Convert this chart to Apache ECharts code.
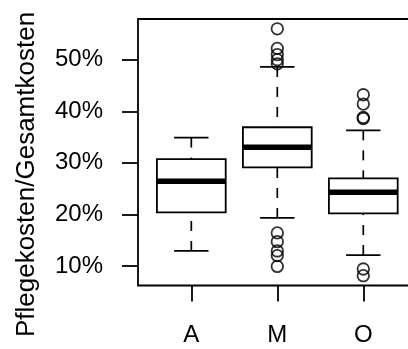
<!DOCTYPE html>
<html>
<head>
<meta charset="utf-8">
<script src="https://cdn.jsdelivr.net/npm/echarts@6/dist/echarts.min.js"></script>
<style>
  html, body { margin: 0; padding: 0; background: #fff; }
  #chart { width: 408px; height: 349px; }
</style>
</head>
<body>
<div id="chart"></div>
<script>
// Share of care costs in total costs, by group
const categories = ['A', 'M', 'O'];
const whiskerLow  = [12.9, 19.3, 12.1];
const quartile1   = [20.4, 29.1, 20.2];
const medians     = [26.4, 33.0, 24.3];
const quartile3   = [30.7, 36.9, 27.0];
const whiskerHigh = [34.9, 48.6, 36.3];
const outliersA = [];
const outliersM = [56.0, 52.2, 51.0, 50.0, 49.2, 16.4, 14.7, 12.9, 12.0, 9.9];
const outliersO = [43.2, 41.4, 38.8, 38.6, 9.4, 8.1];
const yTicks = [10, 20, 30, 40, 50];

const FONT = 'Liberation Sans, Arial, Helvetica, sans-serif';
const boxHalf = 0.4;    // half box width in category units
const stapleHalf = 0.2; // half whisker-cap width

const boxData = categories.map((c, i) => [
  i + 1, whiskerLow[i], quartile1[i], medians[i], quartile3[i], whiskerHigh[i]
]);

const outlierData = [];
[outliersA, outliersM, outliersO].forEach((arr, i) => {
  arr.forEach(v => outlierData.push([i + 1, v]));
});

function renderBox(params, api) {
  const x = api.value(0);
  const lo = api.value(1), qa = api.value(2), md = api.value(3),
        qb = api.value(4), hi = api.value(5);
  const tl = api.coord([x - boxHalf, qb]);
  const br = api.coord([x + boxHalf, qa]);
  const mL = api.coord([x - boxHalf, md]);
  const mR = api.coord([x + boxHalf, md]);
  const c = api.coord([x, md]);
  const sL = api.coord([x - stapleHalf, md])[0];
  const sR = api.coord([x + stapleHalf, md])[0];
  const yLo = api.coord([x, lo])[1];
  const yHi = api.coord([x, hi])[1];
  const line = (x1, y1, x2, y2, w, dash) => ({
    type: 'line',
    shape: { x1, y1, x2, y2 },
    style: { stroke: '#000', lineWidth: w, lineDash: dash || null, fill: null }
  });
  return {
    type: 'group',
    children: [
      // whiskers, dashed, drawn from the cap towards the box
      line(c[0], yLo, c[0], br[1], 1.7, [10, 10]),
      line(c[0], yHi, c[0], tl[1], 1.7, [10, 10]),
      // caps
      line(sL, yLo, sR, yLo, 1.8),
      line(sL, yHi, sR, yHi, 1.8),
      {
        type: 'rect',
        shape: { x: tl[0], y: tl[1], width: br[0] - tl[0], height: br[1] - tl[1] },
        style: { fill: '#fff', stroke: '#000', lineWidth: 1.8 }
      },
      line(mL[0], mL[1], mR[0], mR[1], 5.5)
    ]
  };
}

const chart = echarts.init(document.getElementById('chart'), null, { renderer: 'canvas' });
chart.setOption({
  animation: false,
  backgroundColor: '#fff',
  grid: {
    left: 138, top: 19, width: 278.6, height: 266.5,
    outerBoundsMode: 'none',
    containLabel: false,
    show: true, borderColor: '#000', borderWidth: 1.8, backgroundColor: 'transparent'
  },
  xAxis: {
    type: 'value',
    min: 0.38, max: 3.62,
    splitLine: { show: false },
    axisLine: { show: false },
    axisTick: {
      show: true, customValues: [1, 2, 3], length: 16, inside: false,
      lineStyle: { color: '#000', width: 1.8 }
    },
    axisLabel: {
      customValues: [1, 2, 3],
      formatter: v => categories[Math.round(v) - 1],
      color: '#000', fontSize: 24, fontFamily: FONT, margin: 38
    }
  },
  yAxis: {
    type: 'value',
    min: 6.2, max: 57.9,
    splitLine: { show: false },
    axisLine: { show: false },
    axisTick: {
      show: true, customValues: yTicks, length: 16, inside: false,
      lineStyle: { color: '#000', width: 1.8 }
    },
    axisLabel: {
      customValues: yTicks,
      formatter: v => v + '%',
      color: '#000', fontSize: 24, fontFamily: FONT, margin: 35
    }
  },
  graphic: [{
    type: 'text',
    x: 27, y: 174.5,
    rotation: Math.PI / 2,
    style: {
      text: 'Pflegekosten/Gesamtkosten',
      fill: '#000', fontSize: 26, fontFamily: FONT,
      align: 'center', verticalAlign: 'middle'
    }
  }],
  series: [
    {
      type: 'custom',
      renderItem: renderBox,
      data: boxData,
      encode: { x: 0, y: [1, 2, 3, 4, 5] },
      z: 2
    },
    {
      type: 'scatter',
      data: outlierData,
      symbol: 'circle',
      symbolSize: 11.5,
      itemStyle: { color: 'rgba(0,0,0,0)', borderColor: '#000', borderWidth: 1.8 },
      z: 3
    }
  ]
});
</script>
</body>
</html>
